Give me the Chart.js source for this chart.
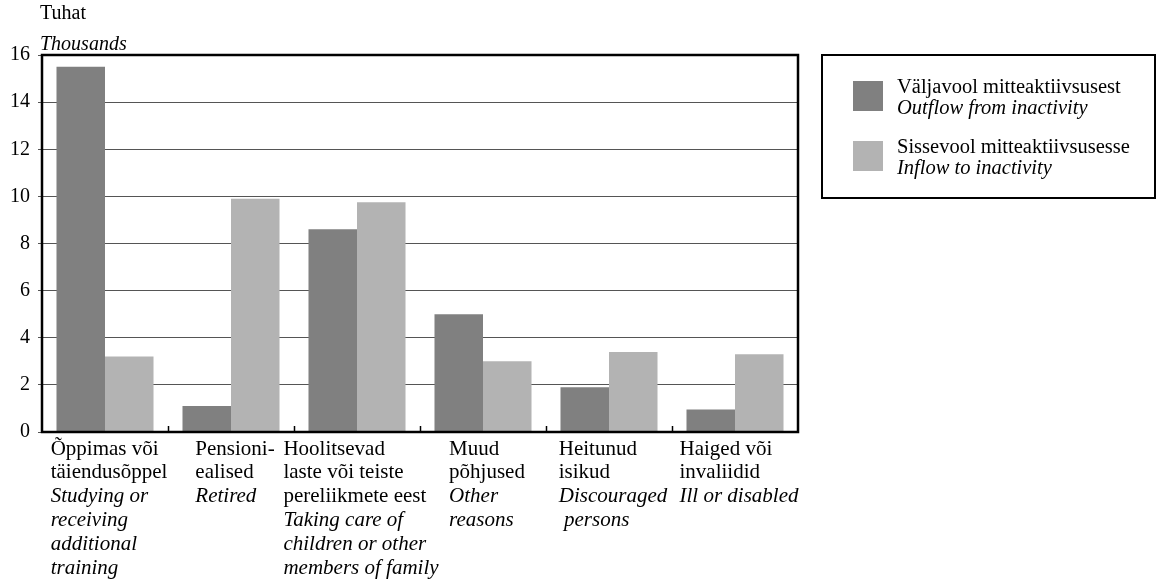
<!DOCTYPE html>
<html>
<head>
<meta charset="utf-8">
<script src="https://cdn.jsdelivr.net/npm/chart.js@4/dist/chart.umd.min.js"></script>
<style>
  html, body { margin: 0; padding: 0; background: #fff; }
  #wrap { position: absolute; left: 0; top: 0; width: 1157px; height: 586px; }
</style>
</head>
<body>
<div id="wrap"><canvas id="c" width="1157" height="586"></canvas></div>
<script>
// ---- data ----
const categoriesEt = [
  ["Õppimas või", "täiendusõppel"],
  ["Pensioni-", "ealised"],
  ["Hoolitsevad", "laste või teiste", "pereliikmete eest"],
  ["Muud", "põhjused"],
  ["Heitunud", "isikud"],
  ["Haiged või", "invaliidid"]
];
const categoriesEn = [
  ["Studying or", "receiving", "additional", "training"],
  ["Retired"],
  ["Taking care of", "children or other", "members of family"],
  ["Other", "reasons"],
  ["Discouraged", " persons"],
  ["Ill or disabled"]
];
const outflowValues = [15.5, 1.1, 8.6, 5.0, 1.9, 0.95];
const inflowValues  = [3.2, 9.9, 9.75, 3.0, 3.4, 3.3];
const seriesEt = ["Väljavool mitteaktiivsusest", "Sissevool mitteaktiivsusesse"];
const seriesEn = ["Outflow from inactivity", "Inflow to inactivity"];
const yTitleEt = "Tuhat";
const yTitleEn = "Thousands";
const yMin = 0, yMax = 16, yStep = 2;

// ---- style ----
const FONT = '"Liberation Serif", "Times New Roman", serif';
const FS = 20;
const FS_X = 21;
const FS_LEG = 20.5;
const DARK = '#808080';
const LIGHT = '#b3b3b3';

const decor = {
  id: 'decor',
  afterDraw(chart) {
    const ctx = chart.ctx;
    const a = chart.chartArea;
    const xs = chart.scales.x;
    const n = xs.ticks.length;
    const catW = (a.right - a.left) / n;
    ctx.save();
    // inner tick marks at category boundaries
    ctx.strokeStyle = '#000';
    ctx.lineWidth = 1.5;
    for (let i = 1; i < n; i++) {
      const x = Math.round(a.left + catW * i) + 0.5;
      ctx.beginPath();
      ctx.moveTo(x, a.bottom);
      ctx.lineTo(x, a.bottom - 6);
      ctx.stroke();
    }
    // plot border
    ctx.lineWidth = 2.5;
    ctx.strokeRect(a.left, a.top, a.right - a.left, a.bottom - a.top);

    // x labels
    ctx.fillStyle = '#000';
    ctx.textBaseline = 'middle';
    ctx.textAlign = 'left';
    const lh = 23.8;
    for (let i = 0; i < n; i++) {
      const cx = xs.getPixelForValue(i);
      const lines = [];
      categoriesEt[i].forEach(t => lines.push({t, it: false}));
      categoriesEn[i].forEach(t => lines.push({t, it: true}));
      let w = 0;
      lines.forEach(l => {
        ctx.font = (l.it ? 'italic ' : '') + FS_X + 'px ' + FONT;
        w = Math.max(w, ctx.measureText(l.t).width);
      });
      const x0 = cx - w / 2 + 4;
      lines.forEach((l, k) => {
        ctx.font = (l.it ? 'italic ' : '') + FS_X + 'px ' + FONT;
        ctx.fillText(l.t, x0, a.bottom + 17 + k * lh);
      });
    }

    // y title
    ctx.font = FS + 'px ' + FONT;
    ctx.fillText(yTitleEt, 40, 14);
    ctx.font = 'italic ' + FS + 'px ' + FONT;
    ctx.fillText(yTitleEn, 40, 45);

    // legend
    const lx = 822, ly = 55, lw = 333, lhh = 143;
    ctx.lineWidth = 2;
    ctx.strokeRect(lx, ly, lw, lhh);
    const colors = [DARK, LIGHT];
    for (let s = 0; s < 2; s++) {
      const top = ly + 26 + s * 60;
      ctx.fillStyle = colors[s];
      ctx.fillRect(lx + 31, top, 30, 30);
      ctx.fillStyle = '#000';
      ctx.font = FS_LEG + 'px ' + FONT;
      ctx.fillText(seriesEt[s], lx + 75, top + 7);
      ctx.font = 'italic ' + FS_LEG + 'px ' + FONT;
      ctx.fillText(seriesEn[s], lx + 75, top + 28);
    }
    ctx.restore();
  }
};

new Chart(document.getElementById('c'), {
  type: 'bar',
  data: {
    labels: categoriesEt.map(l => l.join(' ')),
    datasets: [
      { label: seriesEt[0], data: outflowValues, backgroundColor: DARK,
        barPercentage: 1.0, categoryPercentage: 0.77 },
      { label: seriesEt[1], data: inflowValues, backgroundColor: LIGHT,
        barPercentage: 1.0, categoryPercentage: 0.77 }
    ]
  },
  options: {
    responsive: false,
    animation: false,
    devicePixelRatio: 1,
    layout: { padding: { top: 55, right: 359, left: 0, bottom: 0 } },
    plugins: { legend: { display: false }, tooltip: { enabled: false }, title: { display: false } },
    scales: {
      x: {
        offset: true,
        grid: { display: false },
        border: { display: false },
        ticks: { display: false },
        afterFit: s => { s.height = 154; }
      },
      y: {
        min: yMin, max: yMax,
        ticks: { stepSize: yStep, color: '#000', padding: 8,
                 font: { family: FONT, size: FS } },
        grid: { color: '#555', lineWidth: 1, tickLength: 4, drawTicks: true },
        border: { display: false },
        afterFit: s => { s.width = 42; }
      }
    }
  },
  plugins: [decor]
});
</script>
</body>
</html>
